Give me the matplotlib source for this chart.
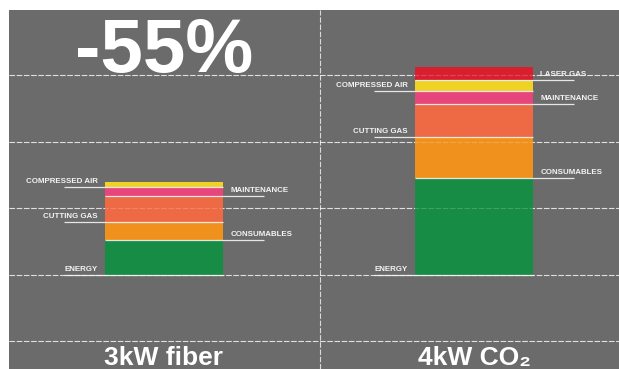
import matplotlib
matplotlib.use("Agg")
import matplotlib.pyplot as plt

# Running cost breakdown per machine (units of the grid step)
categories = ["3kW fiber", "4kW CO₂"]
segments = ["ENERGY", "CONSUMABLES", "CUTTING GAS", "MAINTENANCE",
            "COMPRESSED AIR", "LASER GAS"]
fiber_costs = [0.53, 0.27, 0.39, 0.135, 0.075, 0.0]
co2_costs = [1.46, 0.617, 0.496, 0.195, 0.165, 0.195]
headline = "-55%"

BG = "#6b6b6b"
SEG_COLORS = ["#178c45", "#f1911d", "#ee6a45", "#e6467c", "#f0d224", "#d81f2f"]
LABEL_SIDE = ["left", "right", "left", "right", "left", "right"]
TXT = "#f4f4f4"

plt.rcParams["font.family"] = ["Liberation Sans", "DejaVu Sans"]

fig = plt.figure(figsize=(6.19, 3.69), dpi=100, facecolor="white")
ax = fig.add_axes([9 / 619, 0, 610 / 619, 359 / 369])
ax.set_facecolor(BG)
ax.set_xlim(-0.5, 1.468)
ax.set_ylim(-1.414, 3.985)
for s in ax.spines.values():
    s.set_visible(False)
ax.set_xticks([])
ax.set_yticks([])

dash = (0, (5, 1.5))
grid_y = [-1, 0, 1, 2, 3]
for gy in grid_y:
    ax.axhline(gy, color="white", lw=0.8, ls=dash, alpha=0.75, zorder=1)
    ax.axhline(gy, color="white", lw=0.8, ls=dash, alpha=0.18, zorder=4)
ax.axvline(0.503, color="white", lw=0.8, ls=dash, alpha=0.75, zorder=1)

bar_w = 0.381
leader = 0.132
for xi, costs in enumerate([fiber_costs, co2_costs]):
    left = xi - bar_w / 2
    right = xi + bar_w / 2
    bottom = 0.0
    for name, val, col, side in zip(segments, costs, SEG_COLORS, LABEL_SIDE):
        if val <= 0:
            continue
        ax.bar(xi, val, width=bar_w, bottom=bottom, color=col,
               edgecolor="none", zorder=2)
        # boundary line under each segment, extended as a label leader
        if side == "left":
            ax.plot([left - leader, right], [bottom, bottom], color=TXT,
                    lw=0.9, alpha=0.9, zorder=3, solid_capstyle="butt")
            ax.text(left - 0.022, bottom + 0.03, name, ha="right",
                    va="bottom", color=TXT, fontsize=5.7, fontweight="bold",
                    zorder=5)
        else:
            ax.plot([left, right + leader], [bottom, bottom], color=TXT,
                    lw=0.9, alpha=0.9, zorder=3, solid_capstyle="butt")
            ax.text(right + 0.024, bottom + 0.03, name, ha="left",
                    va="bottom", color=TXT, fontsize=5.7, fontweight="bold",
                    zorder=5)
        bottom += val

    ax.text(xi, -1.36, categories[xi], ha="center", va="baseline",
            color="white", fontsize=19, fontweight="bold", zorder=5)

ax.text(0.0, 3.05, headline, ha="center", va="baseline", color="white",
        fontsize=55, fontweight="bold", zorder=5)

fig.savefig("out.png", dpi=100, facecolor="white")
